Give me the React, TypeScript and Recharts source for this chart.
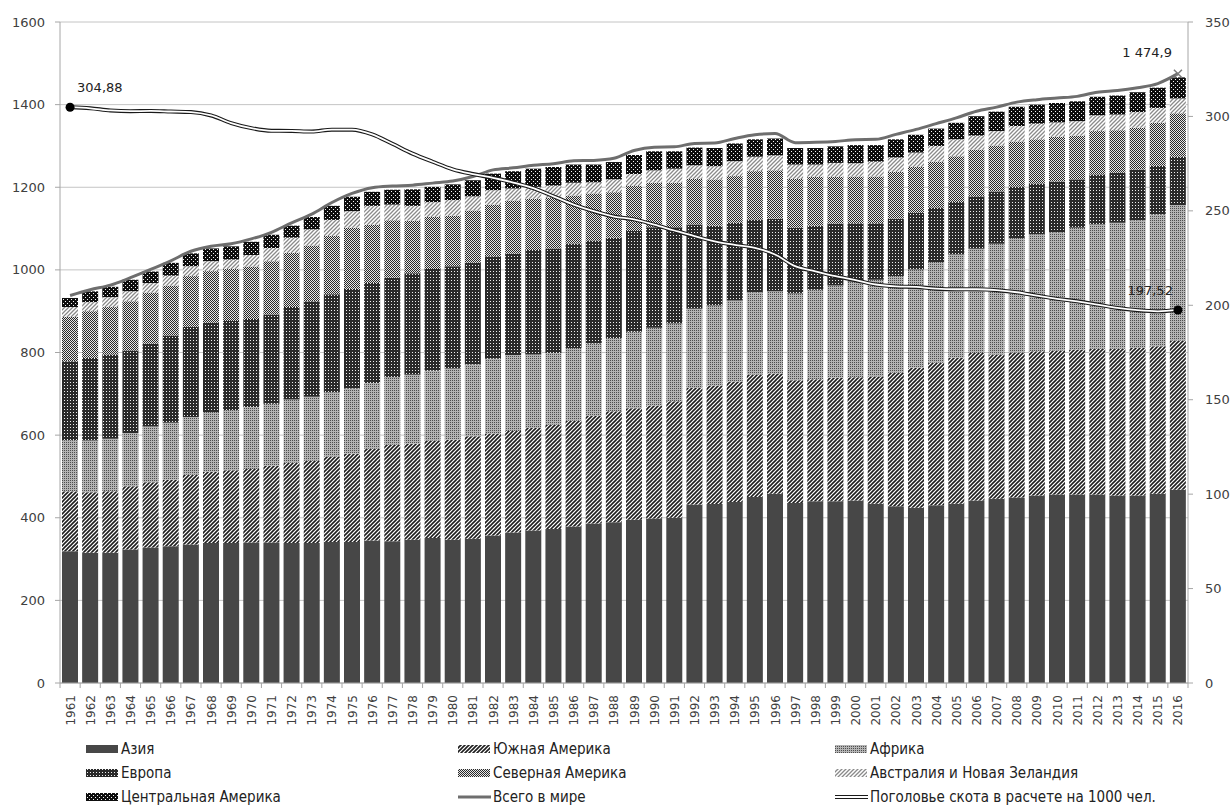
import React from "react";
import {
    ComposedChart,
    Bar,
    Line,
    XAxis,
    YAxis,
    CartesianGrid,
    Legend,
} from "recharts";

const years = [
    1961, 1962, 1963, 1964, 1965, 1966, 1967, 1968, 1969, 1970,
    1971, 1972, 1973, 1974, 1975, 1976, 1977, 1978, 1979, 1980,
    1981, 1982, 1983, 1984, 1985, 1986, 1987, 1988, 1989, 1990,
    1991, 1992, 1993, 1994, 1995, 1996, 1997, 1998, 1999, 2000,
    2001, 2002, 2003, 2004, 2005, 2006, 2007, 2008, 2009, 2010,
    2011, 2012, 2013, 2014, 2015, 2016,
];

const asia = [
    319, 315, 315, 323, 328, 331, 335, 339, 339, 340,
    340, 339, 339, 341, 341, 345, 343, 347, 351, 347,
    349, 357, 364, 369, 373, 379, 386, 389, 395, 398,
    400, 432, 433, 438, 450, 458, 436, 440, 440, 442,
    434, 428, 424, 430, 434, 442, 446, 449, 454, 456,
    456, 456, 454, 454, 458, 468,
];
const southAmerica = [
    145, 147, 149, 153, 158, 161, 169, 172, 176, 178,
    186, 194, 199, 207, 214, 222, 234, 232, 236, 242,
    248, 247, 246, 248, 252, 256, 260, 269, 270, 274,
    282, 282, 287, 292, 297, 291, 297, 295, 299, 298,
    308, 323, 339, 345, 353, 357, 349, 351, 349, 349,
    351, 353, 355, 357, 357, 361,
];
const africa = [
    124, 125, 127, 129, 135, 138, 140, 145, 146, 150,
    150, 153, 155, 156, 158, 159, 163, 167, 169, 172,
    174, 181, 184, 178, 174, 176, 176, 177, 185, 188,
    188, 192, 194, 196, 199, 199, 210, 217, 223, 232,
    234, 234, 238, 244, 250, 252, 268, 277, 283, 286,
    295, 301, 305, 309, 319, 328,
];
const europe = [
    191, 200, 204, 200, 200, 211, 218, 216, 215, 213,
    216, 224, 231, 237, 241, 242, 241, 246, 246, 248,
    246, 248, 245, 253, 253, 253, 249, 243, 244, 243,
    233, 204, 193, 188, 176, 176, 159, 155, 150, 141,
    137, 139, 137, 132, 127, 127, 127, 125, 123, 123,
    117, 121, 121, 123, 118, 117,
];
const northAmerica = [
    107, 113, 115, 119, 124, 121, 123, 125, 126, 127,
    129, 131, 135, 141, 148, 141, 139, 127, 126, 122,
    127, 125, 129, 124, 122, 116, 114, 110, 109, 108,
    108, 110, 112, 113, 117, 117, 118, 118, 113, 113,
    113, 113, 111, 111, 111, 113, 111, 109, 107, 108,
    106, 105, 103, 101, 104, 105,
];
const australiaNz = [
    24, 22, 24, 24, 23, 24, 24, 24, 23, 28,
    32, 37, 39, 39, 40, 46, 38, 36, 36, 38,
    34, 35, 29, 29, 30, 31, 27, 31, 29, 30,
    34, 33, 32, 36, 35, 36, 35, 30, 34, 32,
    36, 35, 35, 38, 41, 34, 35, 37, 38, 35,
    35, 38, 38, 38, 36, 36,
];
const centralAmerica = [
    22, 26, 25, 28, 28, 31, 31, 31, 32, 32,
    32, 29, 30, 34, 35, 34, 36, 40, 37, 38,
    39, 40, 42, 44, 45, 44, 43, 42, 46, 46,
    42, 43, 44, 43, 42, 41, 40, 40, 40, 44,
    40, 44, 43, 42, 40, 47, 47, 47, 46, 47,
    48, 45, 46, 48, 49, 51,
];
const world = [
    938, 952, 963, 981, 1001, 1022, 1045, 1057, 1063, 1075,
    1091, 1114, 1135, 1163, 1185, 1199, 1203, 1205, 1210, 1215,
    1226, 1242, 1247, 1253, 1257, 1264, 1265, 1270, 1289, 1297,
    1298, 1306, 1307, 1318, 1327, 1330, 1308, 1309, 1311, 1315,
    1316, 1328, 1340, 1354, 1368, 1384, 1394, 1406, 1412, 1416,
    1420, 1430, 1434, 1441, 1451, 1474.9,
];
// поголовье на 1000 чел. (правая ось)
const perCapita = [
    304.88, 304.3, 303.2, 302.8, 302.9, 302.6, 302.3, 300.5, 296.5, 293.8,
    292.4, 292.3, 292, 293, 293, 290.5, 285.5, 280.3, 276, 272,
    269.5, 267.5, 265, 262, 257.7, 253.3, 249.8, 247, 245.5, 242.7,
    239.6, 236.6, 233.9, 232, 230.4, 226.9, 220.7, 218, 215.4, 213.3,
    211, 210, 209.7, 208.8, 208.5, 208.5, 208, 206.9, 205.1, 203.4,
    202.1, 200.4, 198.6, 197.4, 196.8, 197.52,
];

const leftTicks = [0, 200, 400, 600, 800, 1000, 1200, 1400, 1600];
const rightTicks = [0, 50, 100, 150, 200, 250, 300, 350];

const data = years.map((y, i) => ({
    year: String(y),
    asia: asia[i],
    southAmerica: southAmerica[i],
    africa: africa[i],
    europe: europe[i],
    northAmerica: northAmerica[i],
    australiaNz: australiaNz[i],
    centralAmerica: centralAmerica[i],
    world: world[i],
    perCapita: perCapita[i],
}));

const W = 1231;
const H = 805;
const PLOT_L = 60;
const PLOT_R = 1188;
const BAND = (PLOT_R - PLOT_L) / years.length;
const LAST = years.length - 1;

const AXIS = "#a6a6a6";
const TXT = "#404040";
const FONT = "'DejaVu Sans', Verdana, sans-serif";
const LEG_FONT = "'DejaVu Sans Condensed', 'Liberation Sans Narrow', 'Liberation Sans', sans-serif";

const fmt = (v: number) => {
    const parts = String(v).split(".");
    const int = parts[0].replace(/\B(?=(\d{3})+(?!\d))/g, " ");
    return parts[1] ? int + "," + parts[1] : int;
};

const Patterns = () => (
    <defs>
        <pattern id="pSouth" width="4" height="4" patternUnits="userSpaceOnUse">
            <rect width="4" height="4" fill="#fff" />
            <path d="M-1,1 l2,-2 M0,4 l4,-4 M3,5 l2,-2" stroke="#1e1e1e" strokeWidth="1.6" />
        </pattern>
        <pattern id="pAfrica" width="2" height="2" patternUnits="userSpaceOnUse">
            <rect width="2" height="2" fill="#b4b4b4" />
            <rect width="1" height="1" fill="#4e4e4e" />
        </pattern>
        <pattern id="pEurope" width="3" height="3" patternUnits="userSpaceOnUse">
            <rect width="3" height="3" fill="#2a2a2a" />
            <rect x="1" y="1" width="1" height="1" fill="#f0f0f0" />
        </pattern>
        <pattern id="pNorth" width="2" height="2" patternUnits="userSpaceOnUse">
            <rect width="2" height="2" fill="#e6e6e6" />
            <rect width="1" height="1" fill="#2a2a2a" />
            <rect x="1" y="1" width="1" height="1" fill="#2a2a2a" />
        </pattern>
        <pattern id="pAustralia" width="4" height="4" patternUnits="userSpaceOnUse">
            <rect width="4" height="4" fill="#fff" />
            <path d="M-1,1 l2,-2 M0,4 l4,-4 M3,5 l2,-2" stroke="#8a8a8a" strokeWidth="1.3" />
        </pattern>
        <pattern id="pCentral" width="4" height="4" patternUnits="userSpaceOnUse">
            <rect width="4" height="4" fill="#0e0e0e" />
            <rect x="1" y="1" width="1" height="1" fill="#f5f5f5" />
            <rect x="3" y="3" width="1" height="1" fill="#f5f5f5" />
        </pattern>
    </defs>
);

const YearTick = (props: any) => {
    const { x, y, payload, index } = props;
    return (
        <g>
            <line x1={x - BAND / 2} x2={x - BAND / 2} y1={y} y2={y + 5} stroke={AXIS} />
            {index === LAST && (
                <line x1={x + BAND / 2} x2={x + BAND / 2} y1={y} y2={y + 5} stroke={AXIS} />
            )}
            <text
                transform={`translate(${x + 4.5},${y + 12}) rotate(-90)`}
                textAnchor="end"
                fontSize={12}
                fontFamily={FONT}
                fill={TXT}
            >
                {payload.value}
            </text>
        </g>
    );
};

const perCapitaDot = (p: any) => {
    const { cx, cy, index } = p;
    if (index !== 0 && index !== LAST) return <g key={`pc${index}`} />;
    const first = index === 0;
    return (
        <g key={`pc${index}`}>
            <circle cx={cx} cy={cy} r={4.5} fill="#000" />
            <text
                x={first ? cx + 7 : cx - 5}
                y={cy - 15}
                textAnchor={first ? "start" : "end"}
                fontSize={13}
                fontFamily={FONT}
                fill="#222"
            >
                {fmt(perCapita[index])}
            </text>
        </g>
    );
};

const worldDot = (p: any) => {
    const { cx, cy, index } = p;
    if (index !== LAST) return <g key={`w${index}`} />;
    return (
        <g key={`w${index}`}>
            <path
                d={`M${cx - 4},${cy - 4} L${cx + 4},${cy + 4} M${cx - 4},${cy + 4} L${cx + 4},${cy - 4}`}
                stroke="#7a7a7a"
                strokeWidth={1.5}
            />
            <text x={cx - 6} y={cy - 17} textAnchor="end" fontSize={13} fontFamily={FONT} fill="#222">
                {fmt(world[index])}
            </text>
        </g>
    );
};

type LegendItem = { label: string; kind: "bar" | "line" | "double"; fill?: string };

const legendItems: LegendItem[] = [
    { label: "Азия", kind: "bar", fill: "#474747" },
    { label: "Южная Америка", kind: "bar", fill: "url(#pSouth)" },
    { label: "Африка", kind: "bar", fill: "url(#pAfrica)" },
    { label: "Европа", kind: "bar", fill: "url(#pEurope)" },
    { label: "Северная Америка", kind: "bar", fill: "url(#pNorth)" },
    { label: "Австралия и Новая Зеландия", kind: "bar", fill: "url(#pAustralia)" },
    { label: "Центральная Америка", kind: "bar", fill: "url(#pCentral)" },
    { label: "Всего в мире", kind: "line" },
    { label: "Поголовье скота в расчете на 1000 чел.", kind: "double" },
];

const colX = [86, 458, 835];
const rowY = [12, 36, 60];

const ChartLegend = () => (
    <div style={{ position: "relative", width: W, height: 68 }}>
        {legendItems.map((it, i) => {
            const col = i % 3;
            const row = Math.floor(i / 3);
            return (
                <div
                    key={it.label}
                    style={{
                        position: "absolute",
                        left: colX[col],
                        top: rowY[row] - 9,
                        height: 18,
                        display: "flex",
                        alignItems: "center",
                        whiteSpace: "nowrap",
                    }}
                >
                    <svg width={33} height={10} style={{ marginRight: 2 }}>
                        {it.kind === "bar" && <rect x={0} y={1} width={32} height={8} fill={it.fill} />}
                        {it.kind === "line" && (
                            <line x1={0} x2={33} y1={5} y2={5} stroke="#6e6e6e" strokeWidth={3} />
                        )}
                        {it.kind === "double" && (
                            <>
                                <line x1={0} x2={33} y1={5} y2={5} stroke="#1a1a1a" strokeWidth={4} />
                                <line x1={0} x2={33} y1={5} y2={5} stroke="#fff" strokeWidth={1.8} />
                            </>
                        )}
                    </svg>
                    <span style={{ fontFamily: LEG_FONT, fontSize: 15, color: "#222" }}>{it.label}</span>
                </div>
            );
        })}
    </div>
);

export default function App() {
    return (
        <div style={{ position: "absolute", left: 0, top: 0, width: W, height: H, background: "#fff" }}>
            <ComposedChart
                width={W}
                height={H}
                data={data}
                margin={{ top: 22, right: 0, bottom: 0, left: 0 }}
                barSize={16}
            >
                <Patterns />
                <CartesianGrid yAxisId="left" vertical={false} stroke="#c4c4c4" />
                <XAxis
                    dataKey="year"
                    interval={0}
                    height={54}
                    tickLine={false}
                    tickSize={0}
                    tickMargin={0}
                    axisLine={{ stroke: AXIS }}
                    tick={(p: any) => <YearTick {...p} />}
                />
                <YAxis
                    yAxisId="left"
                    domain={[0, 1600]}
                    ticks={leftTicks}
                    width={60}
                    tickSize={5}
                    tickMargin={10}
                    axisLine={{ stroke: AXIS }}
                    tickLine={{ stroke: AXIS }}
                    tick={{ fill: TXT, fontSize: 13, fontFamily: FONT }}
                    allowDataOverflow
                />
                <YAxis
                    yAxisId="right"
                    orientation="right"
                    domain={[0, 350]}
                    ticks={rightTicks}
                    width={43}
                    tickSize={5}
                    tickMargin={12}
                    axisLine={{ stroke: AXIS }}
                    tickLine={{ stroke: AXIS }}
                    tick={{ fill: TXT, fontSize: 13, fontFamily: FONT, textAnchor: "start" }}
                    allowDataOverflow
                />
                <Legend
                    verticalAlign="bottom"
                    wrapperStyle={{ left: 0, bottom: 0, width: W, height: 68 }}
                    content={() => <ChartLegend />}
                />
                <Bar yAxisId="left" stackId="a" dataKey="asia" fill="#474747" isAnimationActive={false} />
                <Bar yAxisId="left" stackId="a" dataKey="southAmerica" fill="url(#pSouth)" isAnimationActive={false} />
                <Bar yAxisId="left" stackId="a" dataKey="africa" fill="url(#pAfrica)" isAnimationActive={false} />
                <Bar yAxisId="left" stackId="a" dataKey="europe" fill="url(#pEurope)" isAnimationActive={false} />
                <Bar yAxisId="left" stackId="a" dataKey="northAmerica" fill="url(#pNorth)" isAnimationActive={false} />
                <Bar yAxisId="left" stackId="a" dataKey="australiaNz" fill="url(#pAustralia)" isAnimationActive={false} />
                <Bar yAxisId="left" stackId="a" dataKey="centralAmerica" fill="url(#pCentral)" isAnimationActive={false} />
                <Line
                    yAxisId="left"
                    type="monotone"
                    dataKey="world"
                    stroke="#6e6e6e"
                    strokeWidth={3}
                    dot={worldDot}
                    activeDot={false}
                    isAnimationActive={false}
                />
                <Line
                    yAxisId="right"
                    type="monotone"
                    dataKey="perCapita"
                    stroke="#1a1a1a"
                    strokeWidth={4}
                    dot={false}
                    activeDot={false}
                    isAnimationActive={false}
                />
                <Line
                    yAxisId="right"
                    type="monotone"
                    dataKey="perCapita"
                    stroke="#fff"
                    strokeWidth={1.8}
                    dot={perCapitaDot}
                    activeDot={false}
                    isAnimationActive={false}
                />
            </ComposedChart>
        </div>
    );
}
